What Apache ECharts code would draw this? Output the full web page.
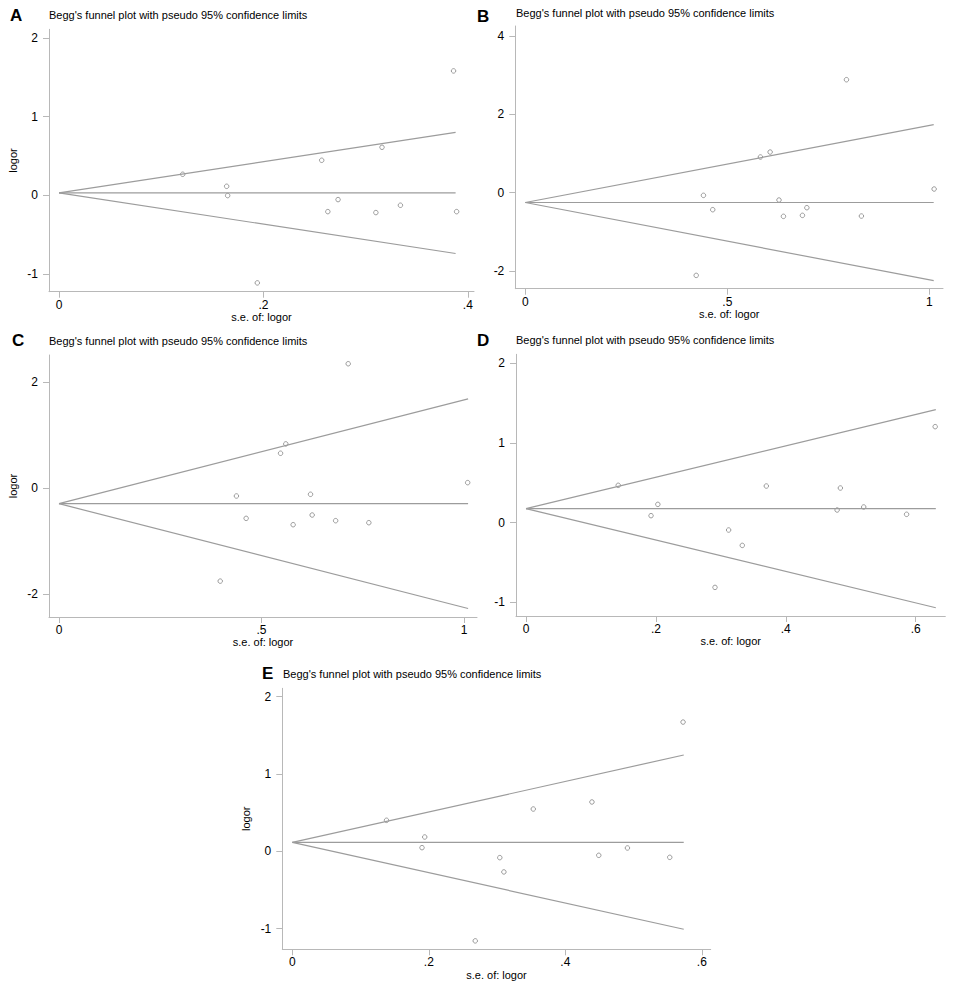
<!DOCTYPE html>
<html>
<head>
<meta charset="utf-8">
<script src="https://cdn.jsdelivr.net/npm/echarts@6/dist/echarts.min.js"></script>
<style>
html, body { margin: 0; padding: 0; background: #fff; }
#chart { width: 957px; height: 988px; }
</style>
</head>
<body>
<div id="chart"></div>
<script>
// A
var seA = [0.121, 0.164, 0.165, 0.194, 0.257, 0.263, 0.273, 0.310, 0.316, 0.334, 0.386, 0.389];
var logorA = [0.267, 0.114, -0.004, -1.114, 0.445, -0.208, -0.055, -0.220, 0.610, -0.127, 1.581, -0.208];
var funnelSeA = [0, 0.388];
var upperA = [0.03, 0.80];
var lowerA = [0.03, -0.74];
var pooledA = [0.03, 0.03];
var xTicksA = [0, 0.2, 0.4];
var yTicksA = [-1, 0, 1, 2];

// B
var seB = [0.423, 0.441, 0.464, 0.582, 0.606, 0.628, 0.639, 0.686, 0.697, 0.795, 0.832, 1.012];
var logorB = [-2.111, -0.068, -0.434, 0.911, 1.038, -0.187, -0.604, -0.579, -0.383, 2.885, -0.596, 0.094];
var funnelSeB = [0, 1.011];
var upperB = [-0.25, 1.736];
var lowerB = [-0.25, -2.247];
var pooledB = [-0.25, -0.25];
var xTicksB = [0, 0.5, 1];
var yTicksB = [-2, 0, 2, 4];

// C
var seC = [0.398, 0.438, 0.462, 0.547, 0.560, 0.578, 0.621, 0.625, 0.683, 0.714, 0.765, 1.009];
var logorC = [-1.751, -0.145, -0.567, 0.661, 0.838, -0.687, -0.113, -0.504, -0.611, 2.350, -0.649, 0.107];
var funnelSeC = [0, 1.010];
var upperC = [-0.29, 1.688];
var lowerC = [-0.29, -2.268];
var pooledC = [-0.29, -0.29];
var xTicksC = [0, 0.5, 1];
var yTicksC = [-2, 0, 2];

// D
var seD = [0.142, 0.1925, 0.203, 0.291, 0.312, 0.333, 0.370, 0.479, 0.484, 0.520, 0.586, 0.630];
var logorD = [0.469, 0.088, 0.230, -0.812, -0.092, -0.285, 0.460, 0.159, 0.435, 0.197, 0.105, 1.205];
var funnelSeD = [0, 0.631];
var upperD = [0.176, 1.418];
var lowerD = [0.176, -1.067];
var pooledD = [0.176, 0.176];
var xTicksD = [0, 0.2, 0.4, 0.6];
var yTicksD = [-1, 0, 1, 2];

// E
var seE = [0.138, 0.190, 0.194, 0.268, 0.304, 0.310, 0.353, 0.439, 0.449, 0.491, 0.553, 0.5725];
var logorE = [0.401, 0.047, 0.185, -1.159, -0.082, -0.267, 0.547, 0.638, -0.052, 0.043, -0.078, 1.672];
var funnelSeE = [0, 0.5735];
var upperE = [0.115, 1.246];
var lowerE = [0.115, -1.009];
var pooledE = [0.115, 0.115];
var xTicksE = [0, 0.2, 0.4, 0.6];
var yTicksE = [-1, 0, 1, 2];

var titleText = "Begg's funnel plot with pseudo 95% confidence limits";
var xName = 's.e. of: logor';
var yName = 'logor';

var panels = [
	{ tag: 'A', se: seA, logor: logorA, fse: funnelSeA, up: upperA, lo: lowerA, pool: pooledA, xt: xTicksA, yt: yTicksA,
	  grid: { left: 49, top: 29.3, width: 425, height: 262.4 }, x: [-0.0098, 0.406], y: [-1.226, 2.11],
	  letter: [10, 6.5], title: [49, 9.5], yName: true },
	{ tag: 'B', se: seB, logor: logorB, fse: funnelSeB, up: upperB, lo: lowerB, pool: pooledB, xt: xTicksB, yt: yTicksB,
	  grid: { left: 515.3, top: 26, width: 427.7, height: 262.7 }, x: [-0.0248, 1.034], y: [-2.451, 4.256],
	  letter: [477, 7.5], title: [516, 7.5], yName: false },
	{ tag: 'C', se: seC, logor: logorC, fse: funnelSeC, up: upperC, lo: lowerC, pool: pooledC, xt: xTicksC, yt: yTicksC,
	  grid: { left: 49, top: 355, width: 428, height: 262 }, x: [-0.0247, 1.032], y: [-2.428, 2.515],
	  letter: [12, 331.5], title: [49, 335.5], yName: true },
	{ tag: 'D', se: seD, logor: logorD, fse: funnelSeD, up: upperD, lo: lowerD, pool: pooledD, xt: xTicksD, yt: yTicksD,
	  grid: { left: 516, top: 354.3, width: 429.3, height: 261.7 }, x: [-0.0154, 0.6456], y: [-1.171, 2.113],
	  letter: [477, 331.5], title: [516, 334.5], yName: false },
	{ tag: 'E', se: seE, logor: logorE, fse: funnelSeE, up: upperE, lo: lowerE, pool: pooledE, xt: xTicksE, yt: yTicksE,
	  grid: { left: 282.3, top: 688.3, width: 428.4, height: 261 }, x: [-0.0147, 0.613], y: [-1.268, 2.109],
	  letter: [262, 664.5], title: [283, 668.5], yName: true }
];

function pairs(xs, ys) {
	return xs.map(function (x, i) { return [x, ys[i]]; });
}
function fmt(v) {
	return String(v).replace(/^0\./, '.').replace(/^-0\./, '-.');
}

var axisColor = '#b8b8b8';
var lineColor = '#9c9c9c';
var font = 'Liberation Sans, Arial, Helvetica, sans-serif';

var option = { animation: false, backgroundColor: '#fff', title: [], grid: [], xAxis: [], yAxis: [], series: [] };

panels.forEach(function (p, i) {
	option.title.push({
		text: p.tag, left: p.letter[0], top: p.letter[1], padding: 0,
		textStyle: { fontSize: 17, fontWeight: 'bold', color: '#000', fontFamily: font }
	});
	option.title.push({
		text: titleText, left: p.title[0], top: p.title[1], padding: 0,
		textStyle: { fontSize: 11, fontWeight: 'normal', color: '#000', fontFamily: font }
	});
	option.grid.push(p.grid);
	option.xAxis.push({
		type: 'value', gridIndex: i, min: p.x[0], max: p.x[1],
		name: xName, nameLocation: 'middle', nameGap: 15,
		nameTextStyle: { fontSize: 11, color: '#000', fontFamily: font },
		axisLine: { show: true, onZero: false, lineStyle: { color: axisColor, width: 1 } },
		axisTick: { show: true, length: 6, customValues: p.xt, lineStyle: { color: axisColor } },
		axisLabel: { customValues: p.xt, formatter: fmt, margin: 7, fontSize: 12, color: '#000', fontFamily: font },
		splitLine: { show: false }
	});
	option.yAxis.push({
		type: 'value', gridIndex: i, min: p.y[0], max: p.y[1],
		name: p.yName ? yName : '', nameLocation: 'middle', nameGap: 31,
		nameTextStyle: { fontSize: 11, color: '#000', fontFamily: font },
		axisLine: { show: true, onZero: false, lineStyle: { color: axisColor, width: 1 } },
		axisTick: { show: true, length: 6, customValues: p.yt, lineStyle: { color: axisColor } },
		axisLabel: { customValues: p.yt, formatter: fmt, margin: 11, fontSize: 12, color: '#000', fontFamily: font },
		splitLine: { show: false }
	});
	[p.up, p.lo, p.pool].forEach(function (ys) {
		option.series.push({
			type: 'line', xAxisIndex: i, yAxisIndex: i, data: pairs(p.fse, ys),
			symbol: 'none', silent: true,
			lineStyle: { color: lineColor, width: 1.2 }
		});
	});
	option.series.push({
		type: 'scatter', xAxisIndex: i, yAxisIndex: i, data: pairs(p.se, p.logor),
		symbol: 'circle', symbolSize: 4.5,
		itemStyle: { color: 'rgba(255,255,255,0)', borderColor: '#777', borderWidth: 0.9 }
	});
});

var chart = echarts.init(document.getElementById('chart'), null, { renderer: 'svg' });
chart.setOption(option);
</script>
</body>
</html>
